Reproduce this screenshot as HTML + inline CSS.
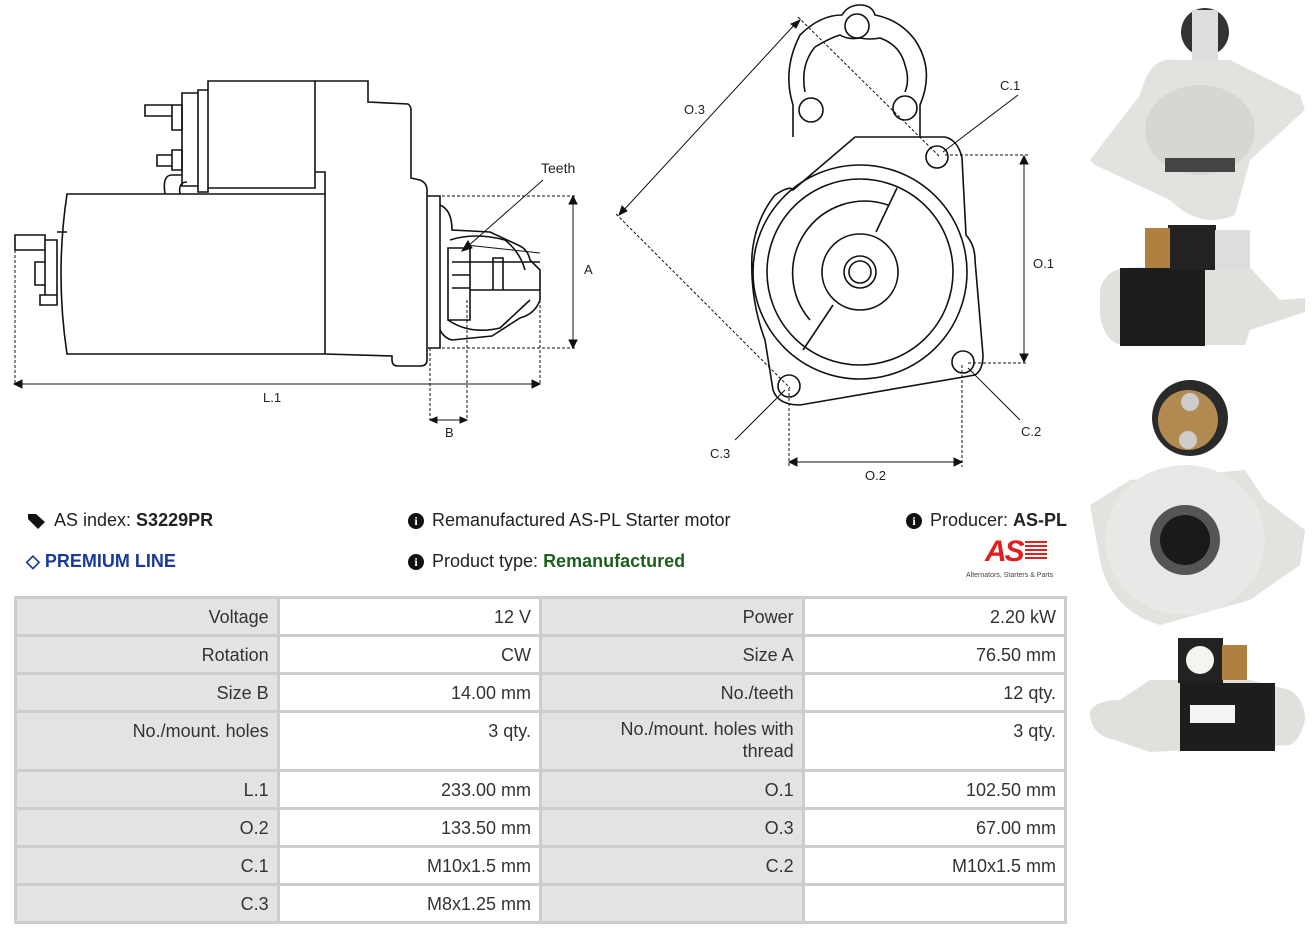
<!DOCTYPE html>
<html><head><meta charset="utf-8"><style>
body{margin:0;width:1316px;height:936px;background:#fff;font-family:"Liberation Sans",sans-serif;position:relative;overflow:hidden}
.t{position:absolute;font-size:18px;color:#222;white-space:nowrap}
table{position:absolute;left:14px;top:596px;border-collapse:collapse;width:1053px;font-size:18px;color:#333}
td{border:3px solid #cdcdcd;text-align:right;padding:8px 8px 0 8px;vertical-align:top;height:27px;width:246px}
td.l{background:#e3e3e3}
.i{display:inline-block;width:16px;height:16px;border-radius:50%;background:#111;color:#fff;font-size:12px;font-weight:bold;text-align:center;line-height:16px;font-family:"Liberation Serif",serif;margin-right:8px;vertical-align:1px}
</style></head><body>
<svg width="1316" height="936" style="position:absolute;left:0;top:0" fill="none" stroke="#111" stroke-width="1.6">
<!-- side view -->
<path d="M67 194 L325 194 L325 354 L67 354 Q55 274 67 194Z"/>
<path d="M57 232 L67 232 M45 240 L57 240 L57 295 L45 295Z M35 262 L45 262 L45 285 L35 285Z M40 295 L57 295 L57 305 L40 305Z M15 235 L45 235 L45 250 L15 250Z"/>
<path d="M208 81 L315 81 L315 188 L208 188Z M198 90 L208 90 L208 192 L198 192Z M182 93 L198 93 L198 186 L182 186Z"/>
<path d="M172 105 L182 105 L182 130 L172 130Z M145 105 L172 105 L172 116 L145 116Z M172 150 L182 150 L182 170 L172 170Z M157 155 L172 155 L172 166 L157 166Z"/>
<path d="M165 194 Q162 175 172 175 L182 175 M180 194 Q178 182 187 182"/>
<path d="M315 81 L368 81 L368 102 L408 104 Q411 106 411 110 L411 178 L420 180 Q427 183 427 190 L427 360 Q427 366 420 366 L398 366 Q392 366 392 360 L392 356 L325 354"/>
<path d="M315 172 L325 172 L325 194"/>
<path d="M427 196 L440 196 L440 348 L428 348 M440 205 Q452 210 452 230 L490 232 L520 246 Q528 250 530 260 L540 270 L540 300 Q535 314 520 318 L492 336 L452 340 Q444 338 440 330"/>
<path d="M448 248 L470 248 L470 320 L448 320 Z M452 262 L470 262 M452 275 L470 275 M452 288 L470 288 M470 262 L540 262 M470 290 L540 290 M493 258 L503 258 L503 290 L493 290Z M450 240 Q475 232 505 240 Q520 252 525 270 M448 320 Q470 335 500 328 L530 300"/>
<g stroke-width="1" stroke-dasharray="3,2"><path d="M15 250 L15 385 M432 196 L575 196 M432 348 L575 348 M540 270 L540 385 M430 348 L430 420 M467 300 L467 420"/></g>
<g stroke-width="1"><path d="M18 384 L536 384 M573 200 L573 344 M433 420 L464 420 M540 253 L466 245"/></g>
<path d="M14 384 L22 380 L22 388Z M540 384 L532 380 L532 388Z M573 196 L569 204 L577 204Z M573 348 L569 340 L577 340Z M430 420 L437 417 L437 423Z M467 420 L460 417 L460 423Z" fill="#111" stroke-width="1"/>
<path d="M543 180 L467 247" stroke-width="1"/><path d="M462 251 L468 241 L472 248Z" fill="#111" stroke-width="1"/>
<!-- front view -->
<path d="M793 137 L793 105 Q782 70 800 35 Q820 15 842 15 Q848 5 860 5 Q872 5 875 15 Q900 20 915 40 Q935 70 920 105 L920 137"/>
<path d="M805 92 Q800 65 815 47 Q830 38 840 35 Q848 40 860 38 Q870 40 880 38 Q900 45 905 65 Q910 80 905 92"/>
<circle cx="857" cy="26" r="12"/><circle cx="811" cy="110" r="12"/><circle cx="905" cy="108" r="12"/>
<path d="M793 190 L855 137 L945 137 Q958 140 962 158 L966 235 Q975 245 975 260 L983 355 Q983 370 975 375 L800 405 Q778 405 773 390 L765 340 Q750 300 752 255 Q755 220 775 195 Q790 185 793 190Z"/>
<circle cx="860" cy="272" r="107"/><circle cx="860" cy="272" r="93"/>
<path d="M897 188 L876 232 M833 305 L803 350 M888 205 A72 72 0 0 0 810 320"/>
<circle cx="860" cy="272" r="38"/><circle cx="860" cy="272" r="16"/><circle cx="860" cy="272" r="11"/>
<circle cx="937" cy="157" r="11"/><circle cx="963" cy="362" r="11"/><circle cx="789" cy="386" r="11"/>
<g stroke-width="1" stroke-dasharray="3,2"><path d="M798 17 L940 157 M616 214 L790 388 M945 155 L1028 155 M968 363 L1028 363 M789 388 L789 467 M962 365 L962 467"/></g>
<g stroke-width="1"><path d="M622 212 L797 22 M1024 160 L1024 358 M792 462 L958 462 M1018 95 L943 152 M1020 420 L968 368 M735 440 L785 390"/></g>
<path d="M619 215 L622 206 L627 211Z M800 20 L796 28 L791 24Z M1024 156 L1020 164 L1028 164Z M1024 362 L1020 354 L1028 354Z M789 462 L797 458 L797 466Z M962 462 L954 458 L954 466Z" fill="#111" stroke-width="1"/>
<!-- photos -->
<g stroke="none">
<circle cx="1205" cy="32" r="24" fill="#333"/><rect x="1192" y="10" width="26" height="50" fill="#ddd"/>
<path d="M1090 160 L1140 95 Q1150 55 1175 60 L1230 60 L1300 95 L1305 110 L1250 160 L1235 215 Q1200 230 1170 200 L1095 165Z" fill="#e2e2df"/>
<ellipse cx="1200" cy="130" rx="55" ry="45" fill="#d6d6d2"/><rect x="1165" y="158" width="70" height="14" fill="#444"/>
<path d="M1100 290 Q1105 270 1125 268 L1245 262 L1280 300 L1305 298 L1305 312 L1250 330 L1245 345 L1125 345 Q1105 345 1100 315Z" fill="#e0e0dc"/>
<rect x="1120" y="268" width="85" height="78" fill="#1d1d1d"/><rect x="1168" y="225" width="48" height="45" fill="#222"/><rect x="1145" y="228" width="25" height="40" fill="#b08040"/>
<rect x="1215" y="230" width="35" height="40" fill="#ddd"/>
<circle cx="1190" cy="418" r="38" fill="#2a2a2a"/><circle cx="1188" cy="420" r="30" fill="#b08a50"/><circle cx="1190" cy="402" r="9" fill="#ccc"/><circle cx="1188" cy="440" r="9" fill="#ccc"/>
<path d="M1090 505 L1130 480 L1245 470 L1265 500 L1305 530 L1300 565 L1250 600 L1160 625 Q1110 610 1100 560Z" fill="#e2e2df"/>
<ellipse cx="1185" cy="540" rx="80" ry="75" fill="#e8e8e6"/><circle cx="1185" cy="540" r="35" fill="#555"/><circle cx="1185" cy="540" r="25" fill="#1a1a1a"/>
<path d="M1090 712 Q1095 700 1120 700 L1150 680 L1250 680 L1290 690 Q1305 700 1305 720 Q1300 740 1290 745 L1150 752 L1115 740 Q1090 735 1090 712Z" fill="#e0e0dc"/>
<rect x="1180" y="683" width="95" height="68" fill="#1d1d1d"/><rect x="1178" y="638" width="45" height="45" fill="#222"/><circle cx="1200" cy="660" r="14" fill="#f4f4f0"/><rect x="1222" y="645" width="25" height="35" fill="#b08040"/><rect x="1190" y="705" width="45" height="18" fill="#f4f4f4"/>
</g>
<path d="M28 514 L36 514 L45 522 L38 529 L28 519Z" fill="#111" stroke="none"/>
</svg>
<div class="t" style="left:541px;top:160px;font-size:14px">Teeth</div>
<div class="t" style="left:584px;top:262px;font-size:13px">A</div>
<div class="t" style="left:263px;top:390px;font-size:13px">L.1</div>
<div class="t" style="left:445px;top:425px;font-size:13px">B</div>
<div class="t" style="left:684px;top:102px;font-size:13px">O.3</div>
<div class="t" style="left:1000px;top:78px;font-size:13px">C.1</div>
<div class="t" style="left:1033px;top:256px;font-size:13px">O.1</div>
<div class="t" style="left:1021px;top:424px;font-size:13px">C.2</div>
<div class="t" style="left:710px;top:446px;font-size:13px">C.3</div>
<div class="t" style="left:865px;top:468px;font-size:13px">O.2</div>
<div class="t" style="left:54px;top:510px">AS index: <b>S3229PR</b></div>
<div class="t" style="left:26px;top:551px;color:#1a3a9a;font-weight:bold">&#9671; PREMIUM LINE</div>
<div class="t" style="left:408px;top:510px"><span class="i">i</span>Remanufactured AS-PL Starter motor</div>
<div class="t" style="left:408px;top:551px"><span class="i">i</span>Product type: <b style="color:#1e5e1e">Remanufactured</b></div>
<div class="t" style="left:906px;top:510px"><span class="i">i</span>Producer: <b>AS-PL</b></div>
<div class="t" style="left:985px;top:535px;font-size:30px;font-weight:bold;font-style:italic;color:#e02020;letter-spacing:-2px">AS<span style="display:inline-block;width:22px;height:20px;margin-left:2px;background:repeating-linear-gradient(#e02020 0 2px,#fff 2px 4px)"></span></div>
<div class="t" style="left:966px;top:572px;font-size:7px;color:#444">Alternators, Starters &amp; Parts</div>
<table>
<tr><td class="l">Voltage</td><td>12 V</td><td class="l">Power</td><td>2.20 kW</td></tr>
<tr><td class="l">Rotation</td><td>CW</td><td class="l">Size A</td><td>76.50 mm</td></tr>
<tr><td class="l">Size B</td><td>14.00 mm</td><td class="l">No./teeth</td><td>12 qty.</td></tr>
<tr><td class="l" style="height:48px">No./mount. holes</td><td>3 qty.</td><td class="l" style="line-height:22px;padding-top:5px">No./mount. holes with<br>thread</td><td>3 qty.</td></tr>
<tr><td class="l">L.1</td><td>233.00 mm</td><td class="l">O.1</td><td>102.50 mm</td></tr>
<tr><td class="l">O.2</td><td>133.50 mm</td><td class="l">O.3</td><td>67.00 mm</td></tr>
<tr><td class="l">C.1</td><td>M10x1.5 mm</td><td class="l">C.2</td><td>M10x1.5 mm</td></tr>
<tr><td class="l">C.3</td><td>M8x1.25 mm</td><td class="l"></td><td></td></tr>
</table>
</body></html>
